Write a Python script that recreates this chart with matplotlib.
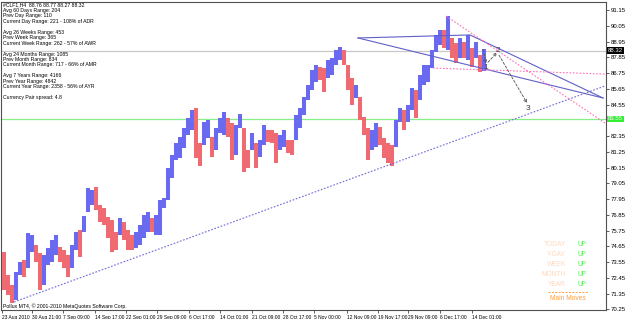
import numpy as np
import matplotlib.pyplot as plt
from matplotlib import font_manager

W, H = 625, 319


def pick_font(cands):
    for c in cands:
        try:
            font_manager.findfont(c, fallback_to_default=False)
            return c
        except ValueError:
            pass
    return 'DejaVu Sans'


FONT = pick_font(['Liberation Sans Narrow', 'Liberation Sans'])
NARROW = FONT.endswith('Narrow')
SMALL = 4.2 if NARROW else 3.5

# H4 bars, grouped 4 bars per entry (high / low)
highs = [74.26, 72.65, 71.96, 72.86, 73.56, 73.70, 75.59, 75.45, 74.75, 74.19,
         74.05, 74.54, 75.10, 75.45, 74.61, 74.40, 74.05, 74.75, 75.66, 75.80,
         76.77, 78.73, 78.59, 78.80, 77.54, 77.33, 76.70, 76.49, 75.66, 76.63,
         76.35, 75.80, 75.45, 75.66, 76.14, 76.84, 77.05, 76.63, 76.84, 77.89,
         78.03, 80.12, 81.03, 81.87, 82.29, 82.92, 83.61, 84.17, 84.31, 81.87,
         83.34, 83.47, 82.29, 82.92, 83.61, 84.03, 83.61, 83.27, 83.13, 83.89,
         82.92, 81.38, 82.57, 81.87, 82.08, 83.13, 82.78, 82.78, 82.57, 82.43,
         82.78, 82.08, 82.08, 83.82, 84.31, 85.08, 85.92, 86.96, 87.31, 87.17,
         87.10, 87.66, 87.80, 88.36, 88.57, 88.36, 87.31, 86.40, 85.92, 85.08,
         83.68, 82.92, 82.78, 83.27, 82.99, 82.22, 81.87, 81.73, 83.47, 84.31,
         84.17, 84.52, 85.71, 85.57, 86.61, 87.31, 87.31, 88.36, 89.41, 89.76,
         89.76, 90.73, 89.20, 88.85, 89.20, 88.92, 89.41, 88.50, 88.92, 88.01,
         88.43]
lows = [71.61, 71.26, 70.70, 70.91, 72.65, 72.51, 73.14, 74.26, 73.56, 71.61,
        71.96, 73.35, 73.56, 74.05, 73.56, 73.14, 72.51, 73.14, 74.40, 73.91,
        75.66, 77.05, 77.54, 77.19, 76.35, 76.14, 75.24, 74.26, 74.40, 75.45,
        75.10, 74.40, 74.40, 74.54, 74.75, 75.24, 75.66, 75.66, 75.45, 75.45,
        77.33, 77.89, 79.42, 80.68, 80.82, 81.52, 82.43, 82.78, 80.82, 80.26,
        81.73, 82.22, 80.89, 81.38, 82.57, 82.43, 82.29, 80.68, 81.03, 82.92,
        79.84, 80.12, 81.38, 80.12, 80.89, 81.73, 81.94, 81.87, 80.47, 81.38,
        81.59, 81.17, 81.03, 82.08, 82.92, 83.82, 84.87, 85.57, 86.13, 86.27,
        85.43, 86.40, 86.61, 87.31, 87.66, 87.31, 85.57, 84.52, 85.01, 83.47,
        82.43, 80.68, 81.38, 81.59, 81.73, 80.82, 80.47, 80.26, 81.59, 83.34,
        82.78, 83.34, 84.17, 83.61, 84.87, 85.92, 86.13, 87.10, 88.22, 88.71,
        88.50, 88.36, 87.80, 87.45, 87.80, 87.80, 87.66, 87.17, 87.80, 86.82,
        86.89]
bars_per_entry = 4

date_labels = ['23 Aug 2010', '30 Aug 21:00', '7 Sep 09:00', '14 Sep 17:00',
               '22 Sep 01:00', '29 Sep 09:00', '6 Oct 17:00', '14 Oct 01:00',
               '21 Oct 09:00', '28 Oct 17:00', '5 Nov 00:00', '12 Nov 09:00',
               '19 Nov 17:00', '29 Nov 09:00', '6 Dec 17:00', '14 Dec 01:00']
date_bars = [0, 30, 61, 93, 124, 155, 187, 218, 250, 281, 312, 345, 376, 406, 438, 470]

price_ticks = [70.25, 71.35, 72.45, 73.55, 74.65, 75.75, 76.85, 77.95, 79.05, 80.15,
               81.25, 82.35, 83.45, 84.55, 85.65, 86.75, 87.85, 88.95, 90.05, 91.15]
bid = 88.32
level = 83.55

# objects drawn on the chart: (bar, price) pairs
trend_line = [(12, 70.77), (603, 85.85)]
wedge_top = [(356, 89.20), (468, 89.41), (601, 85.01)]
wedge_low = [(356, 89.20), (601, 85.01)]
pink_fall = [(444, 90.73), (603, 83.26)]
pink_flat = [(431, 87.10), (603, 86.68)]
waves = [('1', 484, 87.17), ('2', 496, 88.29), ('3', 526, 84.31)]

info = ['#CLF1,H4  88.76 88.77 88.27 88.32',
        'Avg 60 Days Range: 204', 'Prev Day Range: 110',
        'Current Day Range: 221 - 108% of ADR', '',
        'Avg 26 Weeks Range: 453', 'Prev Week Range: 365',
        'Current Week Range: 262 - 57% of AWR', '',
        'Avg 24 Months Range: 1085', 'Prev Month Range: 834',
        'Current Month Range: 717 - 66% of AMR', '',
        'Avg 7 Years Range: 4166', 'Prev Year Range: 4842',
        'Current Year Range: 2358 - 56% of AYR', '',
        'Currency Pair spread: 4.8']
moves = ['TODAY', 'Y-DAY', 'WEEK', 'MONTH', 'YEAR']

fig = plt.figure(figsize=(W / 100, H / 100), dpi=100)
ax = fig.add_axes([1 / W, 1 - 310 / H, 605 / W, 308 / H])
ax.set_xlim(-1, 604)
ax.set_ylim(70.21, 91.71)

highs = np.array(highs)
lows = np.array(lows)
mids = (highs + lows) / 2
x = np.arange(len(highs)) * bars_per_entry + bars_per_entry / 2
up = np.r_[False, mids[1:] > mids[:-1]]
cols = np.where(up, '#6a6af0', '#f06a72')
ax.vlines(x, lows, highs, colors=cols, linewidth=2.9, zorder=3)

ax.axhline(bid, color='#c8c8c8', lw=0.9, zorder=1)
ax.axhline(level, color='#88ee88', lw=0.9, zorder=1)


def poly(pts, **kw):
    xs, ys = zip(*pts)
    ax.plot(xs, ys, **kw)


poly(trend_line, color='#6a6ad8', lw=0.8, ls=(0, (1.5, 1.5)), zorder=4)
poly(wedge_top, color='#6060c8', lw=0.8, zorder=4)
poly(wedge_low, color='#6060c8', lw=0.8, zorder=4)
poly(pink_fall, color='#ff70b8', lw=0.8, ls=(0, (1.5, 1.5)), zorder=4)
poly(pink_flat, color='#ff70b8', lw=0.8, ls=(0, (1.5, 1.5)), zorder=4)

for lab, bx, py in waves:
    ax.text(bx, py, lab, fontsize=6, color='#404040', ha='center', va='center',
            family=FONT, zorder=5)
arrow = dict(arrowstyle='->', color='#505050', lw=0.6, ls=(0, (3, 2)),
             mutation_scale=5, shrinkA=0, shrinkB=0)
ax.annotate('', xy=(waves[0][1], waves[0][2] + 0.25), xytext=(481, 88.4),
            arrowprops=arrow, zorder=5)
ax.annotate('', xy=(waves[1][1] - 1, waves[1][2] - 0.1), xytext=(486, 87.5),
            arrowprops=arrow, zorder=5)
ax.annotate('', xy=(waves[2][1] - 1, waves[2][2] + 0.35), xytext=(497, 88.0),
            arrowprops=arrow, zorder=5)

ax.yaxis.tick_right()
ax.set_yticks(price_ticks)
# the 83.45 label sits under the green level box
ax.set_yticklabels(['' if v == 83.45 else '%.2f' % v for v in price_ticks])
ax.set_xticks(date_bars)
ax.set_xticklabels(date_labels, ha='left')
ax.tick_params(axis='both', length=2.5, width=0.6, color='#404040', pad=1)
ax.tick_params(axis='y', labelsize=4.3)
ax.tick_params(axis='x', labelsize=SMALL)
for t in ax.get_xticklabels() + ax.get_yticklabels():
    t.set_family(FONT)
for s in ax.spines.values():
    s.set_color('#505050')
    s.set_linewidth(0.8)

for i, line in enumerate(info):
    fig.text(3 / W, 1 - (5 + i * 5.45) / H, line, fontsize=SMALL + 0.2, va='center',
             family=FONT, color='black')
fig.text(3 / W, 1 - 306 / H, 'Pollux MT4, \u00a9 2001-2010 MetaQuotes Software Corp.',
         fontsize=SMALL + 0.2, va='center', family=FONT, color='black')

for i, name in enumerate(moves):
    yy = 1 - (245 + i * 10) / H
    fig.text(566 / W, yy, name, fontsize=4.8, ha='right', va='center',
             family=FONT, color='#ffd8c0')
    fig.text(578 / W, yy, 'UP', fontsize=4.8, ha='left', va='center',
             family=FONT, color='#55ee55')
fig.add_artist(plt.Line2D([548 / W, 588 / W], [1 - 292 / H, 1 - 292 / H],
                          color='#ffa040', lw=0.7, ls=(0, (2, 1.5))))
fig.text(568 / W, 1 - 298 / H, 'Main Moves', fontsize=4.8, ha='center', va='center',
         family=FONT, color='#ffa040')


def price_box(p, text, fc, tc):
    yf = ax.transData.transform((0, p))[1] / H
    fig.text(608 / W, yf, text, fontsize=4.3, va='center', ha='left', family=FONT,
             color=tc, bbox=dict(boxstyle='square,pad=0.15', fc=fc, ec='none'))


price_box(bid, '%.2f' % bid, 'black', 'white')
price_box(level, '%.2f' % level, '#33ee33', 'white')

fig.savefig('out.png', dpi=100)
